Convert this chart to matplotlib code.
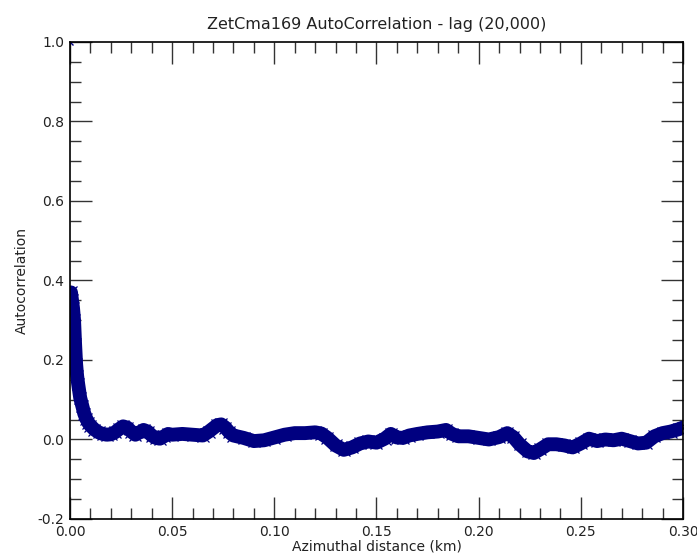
import matplotlib

matplotlib.use("Agg")
import matplotlib.pyplot as plt
from matplotlib.ticker import MultipleLocator

dist_km = [
    0.0, 0.0005, 0.001, 0.0015, 0.002, 0.0025, 0.003, 0.0035, 0.004, 0.005,
    0.006, 0.007, 0.008, 0.009, 0.010, 0.012, 0.014, 0.016, 0.018, 0.020,
    0.022, 0.024, 0.026, 0.028, 0.030, 0.032, 0.034, 0.036, 0.038, 0.040,
    0.042, 0.044, 0.046, 0.048, 0.050, 0.055, 0.060, 0.065, 0.068, 0.072,
    0.074, 0.076, 0.078, 0.080, 0.085, 0.090, 0.095, 0.100, 0.105, 0.110,
    0.115, 0.120, 0.123, 0.126, 0.130, 0.134, 0.138, 0.142, 0.146, 0.150,
    0.154, 0.157, 0.160, 0.163, 0.166, 0.170, 0.175, 0.180, 0.184, 0.187,
    0.190, 0.195, 0.200, 0.205, 0.210, 0.214, 0.217, 0.220, 0.224, 0.227,
    0.230, 0.234, 0.238, 0.242, 0.246, 0.250, 0.254, 0.258, 0.262, 0.266,
    0.270, 0.274, 0.278, 0.282, 0.286, 0.290, 0.294, 0.298, 0.300,
]
autocorr = [
    1.0, 0.37, 0.35, 0.33, 0.30, 0.24, 0.19, 0.16, 0.14, 0.105,
    0.085, 0.065, 0.052, 0.042, 0.035, 0.025, 0.018, 0.014, 0.012, 0.013,
    0.018, 0.026, 0.033, 0.030, 0.020, 0.012, 0.018, 0.024, 0.020, 0.010,
    0.004, 0.002, 0.008, 0.014, 0.012, 0.014, 0.012, 0.010, 0.020, 0.036,
    0.038, 0.030, 0.018, 0.010, 0.004, -0.004, -0.002, 0.005, 0.012, 0.016,
    0.016, 0.018, 0.015, 0.004, -0.015, -0.026, -0.020, -0.010, -0.005, -0.008,
    0.002, 0.014, 0.005, 0.004, 0.010, 0.014, 0.018, 0.020, 0.024, 0.014,
    0.008, 0.008, 0.004, 0.000, 0.006, 0.016, 0.006, -0.012, -0.030, -0.034,
    -0.025, -0.012, -0.012, -0.015, -0.020, -0.010, 0.002, -0.004, 0.000, -0.002,
    0.002, -0.004, -0.010, -0.008, 0.008, 0.016, 0.020, 0.026, 0.030,
]

NAVY = "#000080"

fig = plt.figure(figsize=(6.97, 5.54), dpi=100)
ax = fig.add_axes([0.1004, 0.0632, 0.8795, 0.861])

# lag 0 is a lone point; the rest is the dense band
ax.plot(dist_km[:1], autocorr[:1], ls="none", marker="x", ms=4, mew=1, color=NAVY)
ax.plot(dist_km[1:], autocorr[1:], color=NAVY, lw=10, solid_joinstyle="round",
        solid_capstyle="round", marker="x", ms=8, mew=0.9)

ax.set_xlim(0, 0.30)
ax.set_ylim(-0.2, 1.0)
ax.xaxis.set_major_locator(MultipleLocator(0.05))
ax.xaxis.set_minor_locator(MultipleLocator(0.01))
ax.yaxis.set_major_locator(MultipleLocator(0.2))
ax.yaxis.set_minor_locator(MultipleLocator(0.05))
ax.xaxis.set_major_formatter(lambda v, p: f"{v:.2f}")
ax.yaxis.set_major_formatter(lambda v, p: f"{v:.1f}")

ax.tick_params(which="both", direction="in", top=True, right=True,
               color="#333333", width=1, labelsize=10, labelcolor="#222222")
ax.tick_params(which="major", length=15.5, pad=4)
ax.tick_params(which="minor", length=8)
for s in ax.spines.values():
    s.set_linewidth(1.2)

ax.set_title("ZetCma169 AutoCorrelation - lag (20,000)", fontsize=11.5, pad=9,
             color="#222222")
ax.set_xlabel("Azimuthal distance (km)", fontsize=10, labelpad=1, color="#222222")
ax.set_ylabel("Autocorrelation", fontsize=10, labelpad=6, color="#222222")

fig.savefig("out.png")
